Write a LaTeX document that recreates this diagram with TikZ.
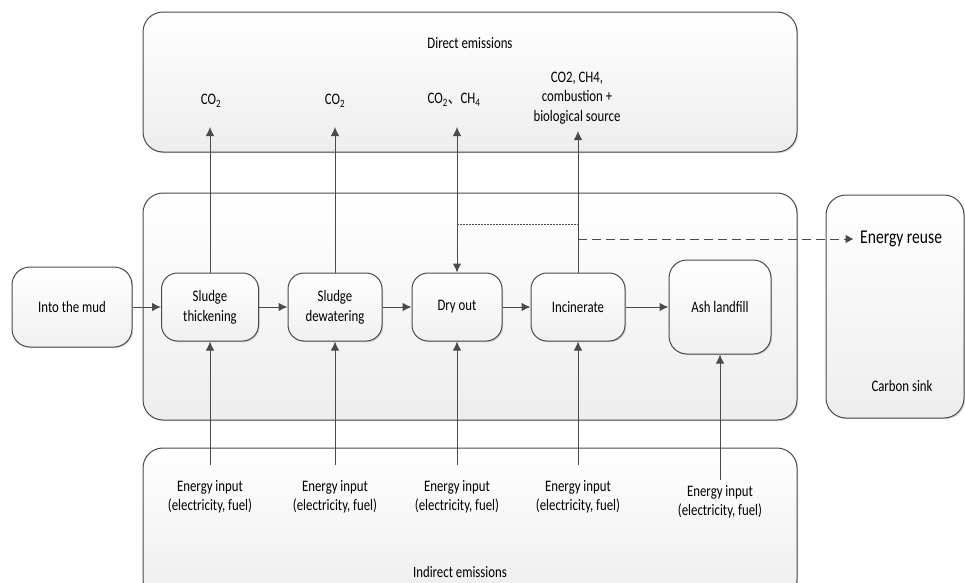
\documentclass[tikz,border=0pt]{standalone}
\usepackage{fontspec}
\setmainfont[FakeStretch=0.8]{Carlito}
\newfontfamily\cjkfont[FakeStretch=0.8]{Noto Sans CJK SC}
\usetikzlibrary{arrows.meta,shadows}
\definecolor{ln}{HTML}{4A4A4A}
\begin{document}
\begin{tikzpicture}[x=1pt,y=-1pt,
  shad/.style={drop shadow={shadow xshift=1.2pt, shadow yshift=-1.2pt, opacity=0.25, fill=black!60}},
  bigbox/.style={draw=ln, line width=1pt, rounded corners=20pt, top color=white, bottom color=black!7, inner sep=0pt, shad},
  proc/.style={draw=ln, line width=1pt, rounded corners=16pt, top color=white, bottom color=black!6,
    align=center, font=\fontsize{16}{20}\selectfont, inner sep=0pt, minimum height=68pt, shad},
  lbl/.style={align=center, font=\fontsize{16}{19.5}\selectfont, inner sep=0pt, text=black},
  arr/.style={draw=ln, line width=1pt, -{Latex[length=9pt,width=8.5pt]}},
]
\useasboundingbox (0,0) rectangle (965,582);

% background boxes
\node[bigbox, minimum width=654pt, minimum height=140pt] (direct) at (470,82) {};
\node[bigbox, minimum width=654pt, minimum height=227pt] (plant) at (470,306.5) {};
\node[bigbox, minimum width=654pt, minimum height=152pt] (indirect) at (470,524) {};
\node[bigbox, minimum width=138pt, minimum height=223pt] (sink) at (895,306.5) {};

% box titles
\node[lbl] (dtitle) at (470,43) {Direct emissions};
\node[lbl] (ititle) at (460,572) {Indirect emissions};
\node[lbl] (stitle) at (902,386) {Carbon sink};

% process nodes
\node[proc, minimum width=120pt, minimum height=80pt, rounded corners=18pt] (mud) at (72,307) {Into the mud};
\node[proc, minimum width=97pt] (thick) at (210,307) {Sludge\\thickening};
\node[proc, minimum width=94pt] (dew) at (335,307) {Sludge\\dewatering};
\node[proc, minimum width=90pt] (dry) at (457,307) {Dry out};
\node[proc, minimum width=94pt] (inc) at (578,307) {Incinerate};
\node[proc, minimum width=102pt, minimum height=94pt, rounded corners=18pt] (ash) at (720,307) {Ash landfill};

% main flow
\draw[arr] (mud) -- (thick);
\draw[arr] (thick) -- (dew);
\draw[arr] (dew) -- (dry);
\draw[arr] (dry) -- (inc);
\draw[arr] (inc) -- (ash);

% direct emissions labels
\node[lbl] (g1) at (211,101) {CO\textsubscript{2}};
\node[lbl] (g2) at (335,101) {CO\textsubscript{2}};
\node[lbl] (g3) at (454,100) {CO\textsubscript{2}{\cjkfont 、}CH\textsubscript{4}};
\node[lbl] (g4) at (577,98) {CO2, CH4,\\combustion +\\biological source};

\coordinate (t1) at (210,127);
\coordinate (t2) at (335,127);
\coordinate (t3) at (457,127);
\coordinate (t4) at (578,131);
\draw[arr] (thick.north) -- (t1);
\draw[arr] (dew.north) -- (t2);
\draw[arr, {Latex[length=9pt,width=8.5pt]}-{Latex[length=9pt,width=8.5pt]}] (dry.north) -- (t3);
\draw[arr] (inc.north) -- (t4);

% dotted and dashed links
\coordinate (d1) at (457,224);
\coordinate (d2) at (578,224);
\coordinate (e0) at (578,239);
\draw[ln, line width=1pt, dash pattern=on 1.5pt off 1.5pt] (d1) -- (d2);
\node[anchor=west, inner sep=0pt, font=\fontsize{19.5}{23}\selectfont, text=black] (reuse) at (860,239) {Energy reuse};
\draw[ln, line width=1pt, dash pattern=on 9pt off 5pt, -{Triangle[length=7.5pt,width=8pt]}] (e0) -- ([xshift=-7pt]reuse.west);

% energy inputs
\node[lbl] (en1) at (210,497) {Energy input\\(electricity, fuel)};
\node[lbl] (en2) at (335,497) {Energy input\\(electricity, fuel)};
\node[lbl] (en3) at (457,497) {Energy input\\(electricity, fuel)};
\node[lbl] (en4) at (578,497) {Energy input\\(electricity, fuel)};
\node[lbl] (en5) at (720,502) {Energy input\\(electricity, fuel)};
\coordinate (s1) at (210,465);
\coordinate (s2) at (335,465);
\coordinate (s3) at (457,465);
\coordinate (s4) at (578,465);
\coordinate (s5) at (720,480);
\draw[arr] (s1) -- (thick.south);
\draw[arr] (s2) -- (dew.south);
\draw[arr] (s3) -- (dry.south);
\draw[arr] (s4) -- (inc.south);
\draw[arr] (s5) -- (ash.south);
\end{tikzpicture}
\end{document}
